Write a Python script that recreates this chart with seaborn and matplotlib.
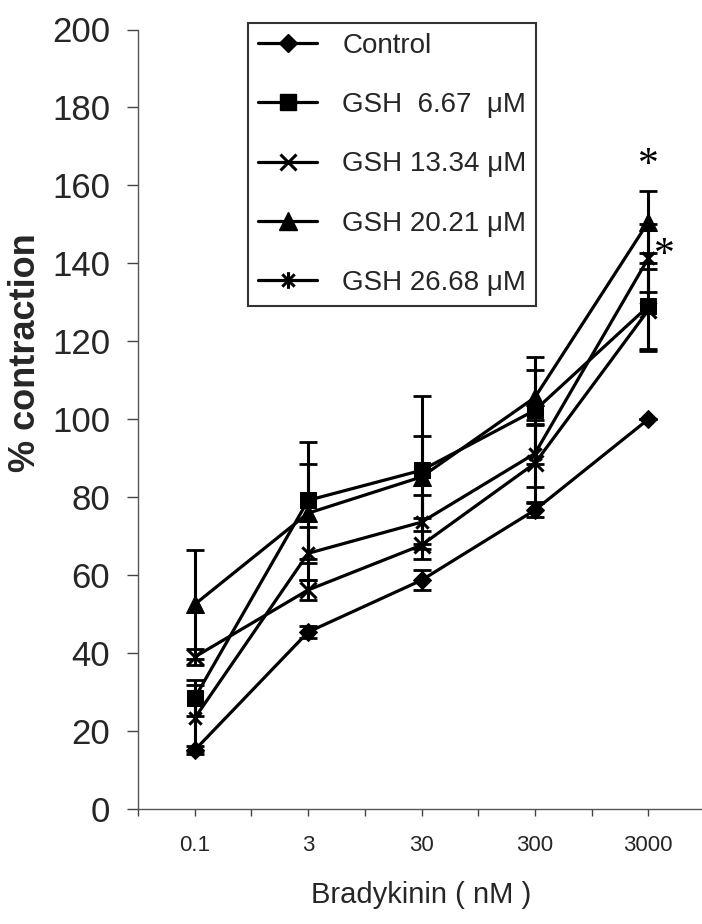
import numpy as np
import pandas as pd
import matplotlib
matplotlib.use("Agg")
import matplotlib.pyplot as plt
from matplotlib.path import Path
from matplotlib.lines import Line2D
import seaborn as sns

# Bradykinin concentrations (nM) shown as categories
doses = ["0.1", "3", "30", "300", "3000"]

series_names = ["Control", "GSH  6.67  \u03bcM", "GSH 13.34 \u03bcM",
                "GSH 20.21 \u03bcM", "GSH 26.68 \u03bcM"]

control_mean = [15.1, 45.4, 58.7, 76.7, 100.0]
control_sem = [1.0, 1.5, 2.5, 1.8, 0.0]

gsh_667_mean = [28.5, 79.2, 86.9, 102.3, 129.0]
gsh_667_sem = [4.6, 15.0, 19.0, 13.7, 11.0]

gsh_1334_mean = [39.0, 56.2, 67.7, 88.7, 128.0]
gsh_1334_sem = [2.0, 2.5, 3.5, 10.0, 10.5]

gsh_2021_mean = [52.5, 75.9, 85.2, 105.6, 150.6]
gsh_2021_sem = [14.0, 12.7, 10.6, 7.0, 8.0]

gsh_2668_mean = [23.3, 65.6, 73.6, 91.2, 141.3]
gsh_2668_sem = [8.5, 6.8, 6.9, 8.5, 8.7]

# significance marks: (dose index, y position, x offset)
sig_marks = [(4, 165.0, 0.0), (4, 142.0, 0.14)]

means = [control_mean, gsh_667_mean, gsh_1334_mean, gsh_2021_mean, gsh_2668_mean]
sems = [control_sem, gsh_667_sem, gsh_1334_sem, gsh_2021_sem, gsh_2668_sem]

# asterisk marker: an X with a vertical stroke
star_path = Path(
    [(-1, -1), (1, 1), (-1, 1), (1, -1), (0, -1.35), (0, 1.35)],
    [Path.MOVETO, Path.LINETO, Path.MOVETO, Path.LINETO, Path.MOVETO, Path.LINETO],
)
marker_styles = [
    dict(marker="D", markersize=9.5),
    dict(marker="s", markersize=11.5),
    dict(marker="x", markersize=11.5, markeredgewidth=2.2),
    dict(marker="^", markersize=12.5),
    dict(marker=star_path, markersize=12, markeredgewidth=2.2),
]

sns.set_style("ticks")
plt.rcParams["font.family"] = ["Liberation Sans", "DejaVu Sans"]

fig = plt.figure(figsize=(7.02, 9.24), dpi=100)
ax = fig.add_axes([138 / 702, 1 - 809 / 924, (705 - 138) / 702, (809 - 29.5) / 924])

pos = np.arange(len(doses))
handles = []
for name, m, s, ms in zip(series_names, means, sems, marker_styles):
    df = pd.DataFrame({"pos": pos, "value": m})
    ax.errorbar(pos, m, yerr=s, fmt="none", ecolor="black", elinewidth=2.2,
                capsize=6.5, capthick=2.0, zorder=2)
    sns.lineplot(data=df, x="pos", y="value", ax=ax, color="black",
                 linewidth=2.3, markerfacecolor="black", markeredgecolor="black",
                 errorbar=None, legend=False, zorder=3, **ms)
    handles.append(Line2D([], [], color="black", linewidth=2.3,
                          markerfacecolor="black", markeredgecolor="black", **ms))

for idx, yv, dx in sig_marks:
    ax.text(idx + dx, yv, "*", ha="center", va="center", fontsize=30,
            family="Liberation Serif", color="black")

ax.set_xlim(-0.5, 4.5)
ax.set_ylim(0, 200)
ax.set_yticks(np.arange(0, 201, 20))
ax.set_xticks(pos)
ax.set_xticklabels(doses)
ax.set_xticks(np.arange(-0.5, 4.6, 1.0), minor=True)

ax.tick_params(axis="y", labelsize=25, length=8, width=1.0, pad=12, color="#444444")
ax.tick_params(axis="x", which="both", labelsize=16, length=5, width=1.0,
               pad=14, color="#444444", direction="out")
for side in ["top", "right"]:
    ax.spines[side].set_visible(False)
for side in ["left", "bottom"]:
    ax.spines[side].set_color("#555555")
    ax.spines[side].set_linewidth(1.0)

ax.set_xlabel("Bradykinin ( nM )", fontsize=21, labelpad=18)
ax.set_ylabel("% contraction", fontsize=26, fontweight="bold")
ax.yaxis.set_label_coords(-0.168, 0.585)

leg = fig.legend(handles, series_names, loc="upper left",
                 bbox_to_anchor=(248 / 702, 1 - 23 / 924), frameon=True,
                 fancybox=False, fontsize=20, handlelength=2.15,
                 handletextpad=0.9, labelspacing=1.2, borderpad=0.35,
                 borderaxespad=0.0)
leg.get_frame().set_edgecolor("black")
leg.get_frame().set_linewidth(1.5)

fig.savefig("out.png", dpi=100)
